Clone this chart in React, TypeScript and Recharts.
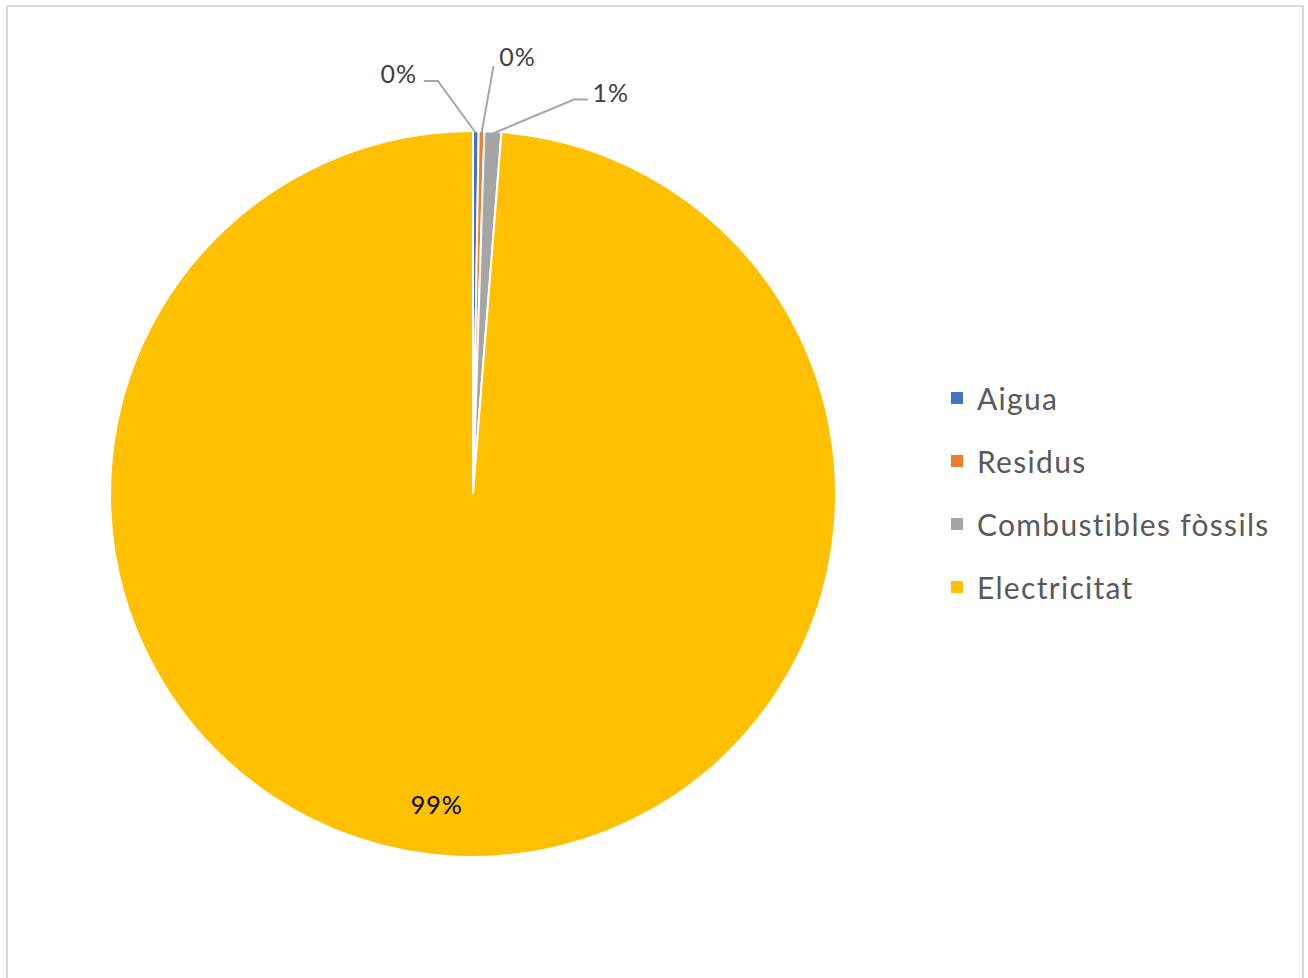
import { PieChart, Pie, Cell, Legend } from "recharts"

const categories = ["Aigua", "Residus", "Combustibles fòssils", "Electricitat"]
const values = [0.25, 0.25, 0.75, 98.75]
const colors = ["#4472c4", "#ed7d31", "#a5a5a5", "#ffc000"]

// label offsets from the slice's outer edge (leader line corner, then text)
const labelBend = [
	{ x: -38, y: -52 },
	{ x: 12, y: -67 },
	{ x: 81, y: -34 },
]
const labelText = [
	{ x: -77, y: -60 },
	{ x: 36, y: -77 },
	{ x: 118, y: -42 },
]

const data = categories.map((name, i) => ({ name, value: values[i] }))

const RAD = Math.PI / 180

const renderLabel = (props: any) => {
	const { cx, cy, midAngle, outerRadius, percent, index } = props
	const txt = `${Math.round(percent * 100)}%`
	if (index === 3) {
		const r = outerRadius * 0.86
		const x = cx + r * Math.cos(-midAngle * RAD) - 24
		const y = cy + r * Math.sin(-midAngle * RAD) - 2
		return (
			<text x={x} y={y} fill="#000" fontSize={25} textAnchor="middle" dominantBaseline="central" fontFamily="Lato, sans-serif" letterSpacing={1}>
				{txt}
			</text>
		)
	}
	const ex = cx + (outerRadius - 2) * Math.cos(-midAngle * RAD)
	const ey = cy + (outerRadius - 2) * Math.sin(-midAngle * RAD)
	const b = labelBend[index]
	const t = labelText[index]
	const bx = ex + b.x
	const by = ey + b.y
	let pts = `${ex},${ey} ${bx},${by}`
	if (index === 0) pts += ` ${bx - 14},${by}`
	if (index === 2) pts += ` ${bx + 14},${by}`
	return (
		<g>
			<polyline points={pts} fill="none" stroke="#a6a6a6" strokeWidth={2} />
			<text x={ex + t.x} y={ey + t.y} fill="#404040" fontSize={25} textAnchor="middle" dominantBaseline="central" fontFamily="Lato, sans-serif" letterSpacing={1}>
				{txt}
			</text>
		</g>
	)
}

const renderLegend = () => (
	<div style={{ fontFamily: "Lato, sans-serif", fontSize: 30, color: "#595959", letterSpacing: 1.3 }}>
		{categories.map((c, i) => (
			<div key={c} style={{ display: "flex", alignItems: "center", height: 63 }}>
				<span style={{ width: 12, height: 12, background: colors[i], marginRight: 14, display: "inline-block" }} />
				{c}
			</div>
		))}
	</div>
)

export default function App() {
	return (
		<div style={{ position: "absolute", left: 0, top: 0, width: 1308, height: 978, background: "#fff", overflow: "hidden" }}>
			<div
				style={{
					position: "absolute",
					left: 6,
					top: 5,
					width: 1294,
					height: 1000,
					border: "2px solid #d9d9d9",
				}}
			/>
			<div style={{ position: "absolute", left: 0, top: 0 }}>
				<PieChart width={1308} height={978}>
					<Pie
						data={data}
						dataKey="value"
						nameKey="name"
						cx={468}
						cy={489}
						outerRadius={363}
						startAngle={90}
						endAngle={-270}
						stroke="#fff"
						strokeWidth={2}
						label={renderLabel}
						labelLine={false}
						isAnimationActive={false}
					>
						{data.map((d, i) => (
							<Cell key={d.name} fill={colors[i]} />
						))}
					</Pie>
					<Legend
						content={renderLegend}
						wrapperStyle={{ position: "absolute", left: 951, top: 366, width: 360 }}
					/>
				</PieChart>
			</div>
		</div>
	)
}
